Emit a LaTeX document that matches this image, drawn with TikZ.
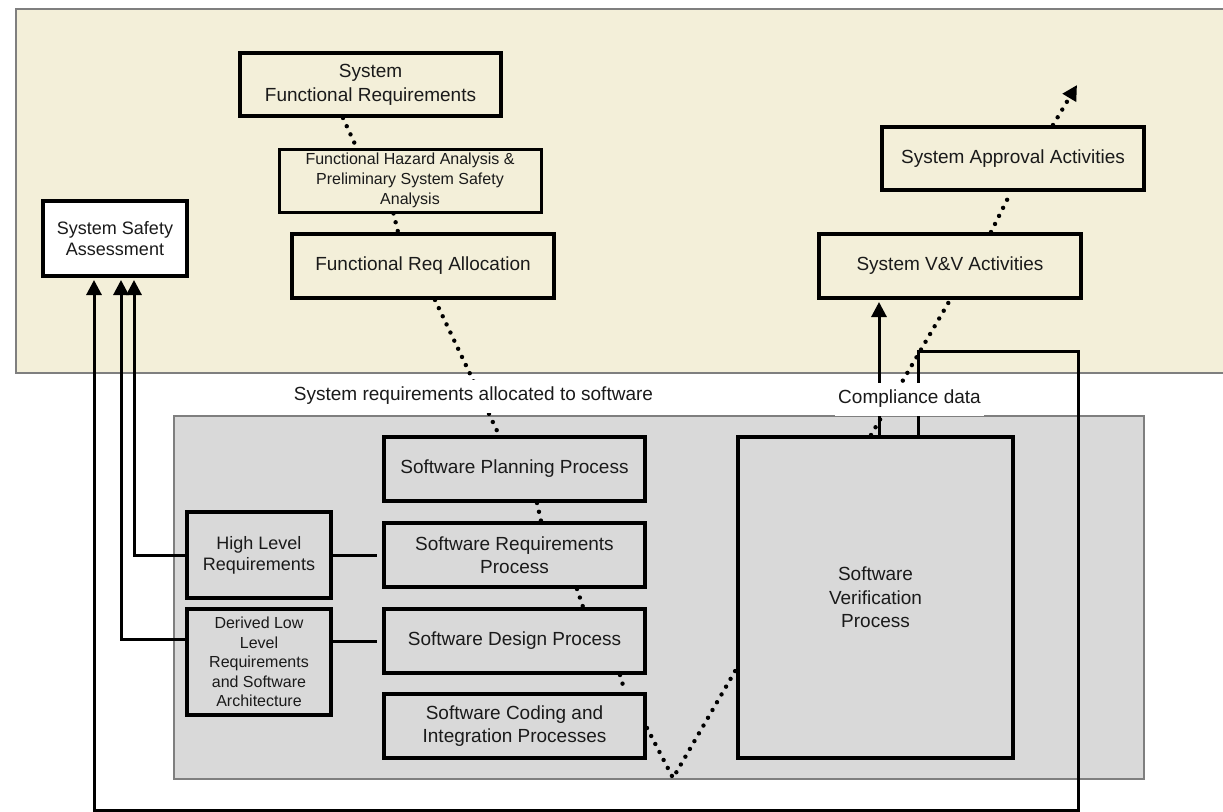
\documentclass[tikz,border=0pt]{standalone}
\usepackage{fontspec}
\setmainfont{Liberation Sans}
\usetikzlibrary{arrows.meta,calc}
\definecolor{sysbg}{HTML}{F3EFD9}
\definecolor{swbg}{HTML}{D9D9D9}
\definecolor{panelline}{HTML}{7F7F7F}
\definecolor{ink}{HTML}{1A1A1A}
\begin{document}
\begin{tikzpicture}[x=1pt,y=-1pt,
  box/.style={draw=black, line width=4pt, align=center, inner sep=0pt, text=ink},
  txt/.style={font=\fontsize{19}{23.5}\selectfont},
  dots/.style={line width=4.4pt, line cap=round, dash pattern=on 0pt off 9pt},
  wire/.style={line width=3pt},
  tip/.style={-{Triangle[length=15pt,width=15pt]}},
  tag/.style={fill=white, inner xsep=3pt, inner ysep=0pt, minimum height=33pt, text=ink, font=\fontsize{19}{23}\selectfont}
]
\useasboundingbox (0,0) rectangle (1223,811);

% system level and software level panels
\draw[panelline, line width=1.2pt, fill=sysbg] (16,9) rectangle (1228,373);
\draw[panelline, line width=1.2pt, fill=swbg] (174,416) rectangle (1144,779);

% system level activities
\node[box, txt, font=\fontsize{19}{24}\selectfont, minimum width=261pt, minimum height=63pt] (sfr) at (370.5,84.5) {System\\Functional Requirements};
\node[box, line width=3pt, font=\fontsize{16}{20}\selectfont, minimum width=262pt, minimum height=63pt] (fha) at (410,180.5) {Functional Hazard Analysis \&\\Preliminary System Safety\\Analysis};
\node[box, txt, minimum width=262pt, minimum height=64pt] (fra) at (423,266) {Functional Req Allocation};
\node[box, fill=white, font=\fontsize{18}{21.5}\selectfont, minimum width=144pt, minimum height=75pt] (ssa) at (115,238.5) {System Safety\\Assessment};
\node[box, txt, minimum width=262pt, minimum height=63pt] (saa) at (1013,158.5) {System Approval Activities};
\node[box, txt, minimum width=262pt, minimum height=64pt] (vv) at (950,266) {System V\&V Activities};

% software life cycle processes
\node[box, txt, minimum width=261pt, minimum height=64pt] (spp) at (514.5,469) {Software Planning Process};
\node[box, txt, minimum width=261pt, minimum height=64pt] (srp) at (514.5,555) {Software Requirements\\Process};
\node[box, txt, minimum width=261pt, minimum height=64pt] (sdp) at (514.5,641) {Software Design Process};
\node[box, txt, minimum width=261pt, minimum height=64pt] (scip) at (514.5,726) {Software Coding and\\Integration Processes};
\node[box, font=\fontsize{18}{21}\selectfont, minimum width=144pt, minimum height=86pt] (hlr) at (259,555) {High Level\\Requirements};
\node[box, font=\fontsize{16}{19.5}\selectfont, minimum width=144pt, minimum height=106pt] (dllr) at (259,662) {Derived Low\\Level\\Requirements\\and Software\\Architecture};
\node[box, txt, minimum width=275pt, minimum height=321pt] (svp) at (875.5,597.5) {Software\\Verification\\Process};

% dotted flow through the life cycle
\draw[dots] ([xshift=105pt]sfr.south west) -- ([xshift=79pt]fha.north west);
\draw[dots] ([xshift=116pt]fha.south west) -- ([xshift=108pt]fra.north west);
\draw[dots] ([xshift=145pt]fra.south west) -- ([xshift=117pt]spp.north west);
\draw[dots] ([xshift=155pt]spp.south west) -- ([xshift=159pt]srp.north west);
\draw[dots] ([xshift=195pt]srp.south west) -- ([xshift=201pt]sdp.north west);
\draw[dots] ([xshift=238pt]sdp.south west) -- ([xshift=243pt]scip.north west);
\coordinate (vtip) at (673,778);
\draw[dots] ([yshift=-2pt]scip.east) -- (vtip) -- ([yshift=-72pt]svp.west);
\draw[dots] ([xshift=135pt]svp.north west) -- ([xshift=133pt]vv.south west);
\draw[dots] ([xshift=174pt]vv.north west) -- ([xshift=131pt]saa.south west);
\coordinate (onward) at (1077,85);
\draw[dots, tip] ([xshift=173pt]saa.north west) -- (onward);

% solid links
\draw[wire, shorten >=5pt] (hlr.east) -- (srp.west);
\draw[wire, shorten >=5pt] (dllr.east |- sdp.west) -- (sdp.west);
\draw[wire, tip, shorten >=2pt] (hlr.west) -| ([xshift=19pt]ssa.south);
\draw[wire, tip, shorten >=2pt] ([yshift=23pt]dllr.west) -| ([xshift=6pt]ssa.south);
\draw[wire, tip, shorten >=2pt] ([xshift=143pt]svp.north west) -- ([xshift=62pt]vv.south west);
\coordinate (loopNE) at (1078,351);
\coordinate (loopSW) at (94,810);
\draw[wire, tip, shorten >=2pt] ([xshift=182pt]svp.north west) |- (loopNE) |- (loopSW) -| ([xshift=-21pt]ssa.south);

% labels on the links
\node[tag] (alloc) at (473.5,396) {System requirements allocated to software};
\node[tag] (comp) at (909.5,399) {Compliance data};
\end{tikzpicture}
\end{document}
